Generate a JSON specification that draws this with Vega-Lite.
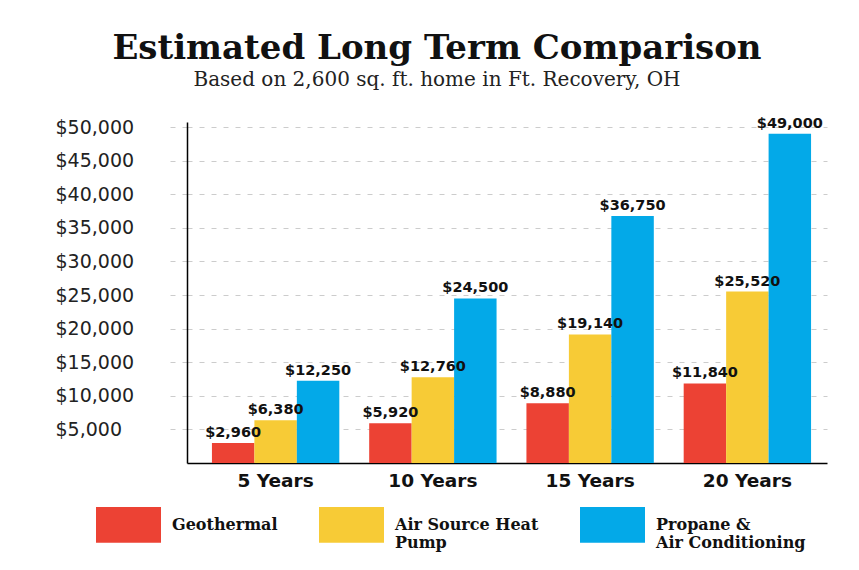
{
  "$schema": "https://vega.github.io/schema/vega-lite/v6.json",
  "width": 640,
  "height": 341,
  "autosize": {"type": "none"},
  "padding": {"left": 187, "top": 122, "right": 32, "bottom": 107},
  "background": "white",
  "title": {
    "text": "Estimated Long Term Comparison",
    "subtitle": "Based on 2,600 sq. ft. home in Ft. Recovery, OH",
    "anchor": "middle",
    "frame": "group",
    "dx": -70,
    "offset": 26,
    "font": "DejaVu Serif",
    "fontSize": 34,
    "fontWeight": "bold",
    "color": "#111111",
    "subtitleFont": "DejaVu Serif",
    "subtitleFontSize": 20,
    "subtitleColor": "#222222",
    "subtitlePadding": 4
  },
  "data": {
    "values": [
      {"period": "5 Years", "system": "Geothermal", "cost": 2960},
      {"period": "5 Years", "system": "Air Source Heat Pump", "cost": 6380},
      {"period": "5 Years", "system": "Propane & Air Conditioning", "cost": 12250},
      {"period": "10 Years", "system": "Geothermal", "cost": 5920},
      {"period": "10 Years", "system": "Air Source Heat Pump", "cost": 12760},
      {"period": "10 Years", "system": "Propane & Air Conditioning", "cost": 24500},
      {"period": "15 Years", "system": "Geothermal", "cost": 8880},
      {"period": "15 Years", "system": "Air Source Heat Pump", "cost": 19140},
      {"period": "15 Years", "system": "Propane & Air Conditioning", "cost": 36750},
      {"period": "20 Years", "system": "Geothermal", "cost": 11840},
      {"period": "20 Years", "system": "Air Source Heat Pump", "cost": 25520},
      {"period": "20 Years", "system": "Propane & Air Conditioning", "cost": 49000}
    ]
  },
  "encoding": {
    "x": {
      "field": "period",
      "type": "nominal",
      "sort": ["5 Years", "10 Years", "15 Years", "20 Years"],
      "scale": {"paddingInner": 0.19, "paddingOuter": 0.13, "align": 0.61},
      "axis": {
        "title": null,
        "labelAngle": 0,
        "ticks": false,
        "domainColor": "#000000",
        "domainWidth": 1.5,
        "labelFont": "DejaVu Sans",
        "labelFontWeight": "bold",
        "labelFontSize": 18.5,
        "labelColor": "#111111",
        "labelPadding": 8
      }
    },
    "xOffset": {
      "field": "system",
      "type": "nominal",
      "sort": ["Geothermal", "Air Source Heat Pump", "Propane & Air Conditioning"],
      "scale": {"paddingInner": 0, "paddingOuter": 0}
    },
    "y": {
      "field": "cost",
      "type": "quantitative",
      "scale": {"domain": [0, 50750], "nice": false},
      "axis": {
        "title": null,
        "values": [5000, 10000, 15000, 20000, 25000, 30000, 35000, 40000, 45000, 50000],
        "format": "$,.0f",
        "domainColor": "#000000",
        "domainWidth": 1.5,
        "tickSize": 20,
        "tickColor": "#cccccc",
        "tickDash": [5, 7],
        "tickWidth": 1,
        "gridColor": "#cccccc",
        "gridDash": [5, 7],
        "gridWidth": 1,
        "labelAlign": "left",
        "labelBaseline": "middle",
        "labelPadding": 112,
        "labelFont": "DejaVu Sans",
        "labelFontSize": 19,
        "labelColor": "#222222"
      }
    }
  },
  "layer": [
    {
      "mark": {"type": "bar"},
      "encoding": {
        "color": {
          "field": "system",
          "type": "nominal",
          "sort": ["Geothermal", "Air Source Heat Pump", "Propane & Air Conditioning"],
          "scale": {
            "domain": ["Geothermal", "Air Source Heat Pump", "Propane & Air Conditioning"],
            "range": ["#EC4234", "#F7CB36", "#03A9E8"]
          },
          "legend": {
            "orient": "none",
            "legendX": -91,
            "legendY": 370,
            "direction": "horizontal",
            "title": null,
            "padding": 0,
            "symbolType": "M-1,-0.55L1,-0.55L1,0.55L-1,0.55Z",
            "symbolSize": 4225,
            "symbolStrokeWidth": 0,
            "symbolOpacity": 1,
            "labelFont": "DejaVu Serif",
            "labelFontWeight": "bold",
            "labelFontSize": 16,
            "labelColor": "#111111",
            "labelOffset": 11,
            "labelLimit": 300,
            "columnPadding": 41,
            "labelExpr": "datum.label == 'Geothermal' ? ['Geothermal', ''] : datum.label == 'Air Source Heat Pump' ? ['Air Source Heat', 'Pump'] : ['Propane &', 'Air Conditioning']"
          }
        }
      }
    },
    {
      "mark": {
        "type": "text",
        "baseline": "bottom",
        "dy": -3,
        "font": "DejaVu Sans",
        "fontWeight": "bold",
        "fontSize": 14.5,
        "color": "#111111"
      },
      "encoding": {
        "text": {"field": "cost", "type": "quantitative", "format": "$,.0f"}
      }
    }
  ],
  "config": {
    "view": {"stroke": null},
    "style": {"guide-label": {"lineHeight": 18}}
  }
}
